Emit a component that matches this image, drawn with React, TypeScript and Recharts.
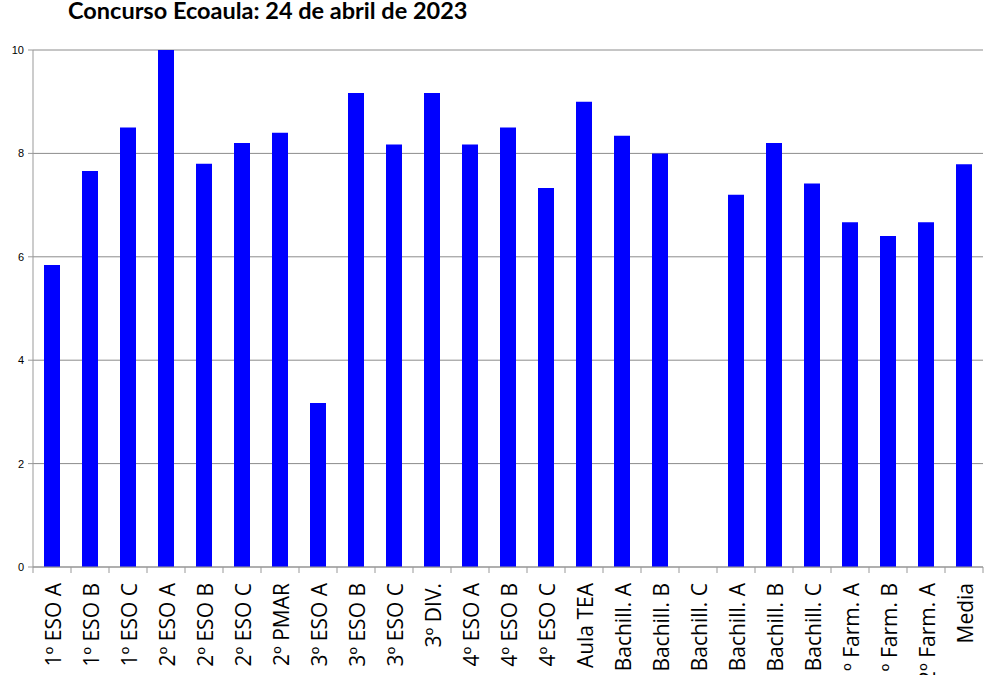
import React from "react";
import { Bar, BarChart, CartesianGrid, XAxis, YAxis } from "recharts";

const grupos = [
  "1º ESO A", "1º ESO B", "1º ESO C", "2º ESO A", "2º ESO B", "2º ESO C", "2º PMAR",
  "3º ESO A", "3º ESO B", "3º ESO C", "3º DIV.", "4º ESO A", "4º ESO B", "4º ESO C",
  "Aula TEA", "1º Bachill. A", "1º Bachill. B", "1º Bachill. C", "2º Bachill. A",
  "2º Bachill. B", "2º Bachill. C", "1º Farm. A", "1º Farm. B", "2º Farm. A", "Media",
];

const notas = [
  5.84, 7.66, 8.5, 10, 7.8, 8.2, 8.4,
  3.17, 9.17, 8.17, 9.17, 8.17, 8.5, 7.33,
  9.0, 8.34, 8.0, 0, 7.2,
  8.2, 7.42, 6.67, 6.4, 6.67, 7.79,
];

const yTicks = [0, 2, 4, 6, 8, 10];

const data = grupos.map((g, i) => ({ grupo: g, nota: notas[i] }));

const W = 1000;
const H = 675;
const M = { top: 50, right: 17, left: 0, bottom: 0 };
const Y_W = 33;
const band = (W - M.left - M.right - Y_W) / grupos.length;

function GroupTick(props: any) {
  const { x, y, payload, index } = props;
  const gx = x - band / 2;
  return (
    <g>
      <line x1={gx} y1={y - 8} x2={gx} y2={y - 2} stroke="#999" />
      {index === grupos.length - 1 && (
        <line x1={x + band / 2} y1={y - 8} x2={x + band / 2} y2={y - 2} stroke="#999" />
      )}
      <text
        transform={`translate(${x + 1},${y + 8}) rotate(-90)`}
        textAnchor="end"
        dominantBaseline="central"
        fontFamily="Open Sans"
        fontSize={21}
        fill="#000"
      >
        {payload.value}
      </text>
    </g>
  );
}

export default function App() {
  return (
    <div style={{ position: "absolute", left: 0, top: 0, width: W, height: H, background: "#fff" }}>
      <svg width={W} height={30} style={{ position: "absolute", left: 0, top: 0 }}>
        <text x={68} y={19} fontFamily="Lato" fontWeight={700} fontSize={23.5} fill="#000">
          Concurso Ecoaula: 24 de abril de 2023
        </text>
      </svg>
      <BarChart width={W} height={H} data={data} margin={M}>
        <CartesianGrid vertical={false} stroke="#8c8c8c" />
        <XAxis
          dataKey="grupo"
          interval={0}
          height={H - 567}
          tickLine={false}
          tickSize={6}
          tickMargin={2}
          axisLine={{ stroke: "#999" }}
          tick={<GroupTick />}
        />
        <YAxis
          domain={[0, 10]}
          ticks={yTicks}
          width={Y_W}
          tickSize={5}
          tickMargin={4}
          axisLine={{ stroke: "#999" }}
          tickLine={{ stroke: "#999" }}
          tick={{ fontSize: 11, fontFamily: "Liberation Sans", fill: "#000" }}
        />
        <Bar dataKey="nota" fill="#0000ff" barSize={16} isAnimationActive={false} />
      </BarChart>
    </div>
  );
}
